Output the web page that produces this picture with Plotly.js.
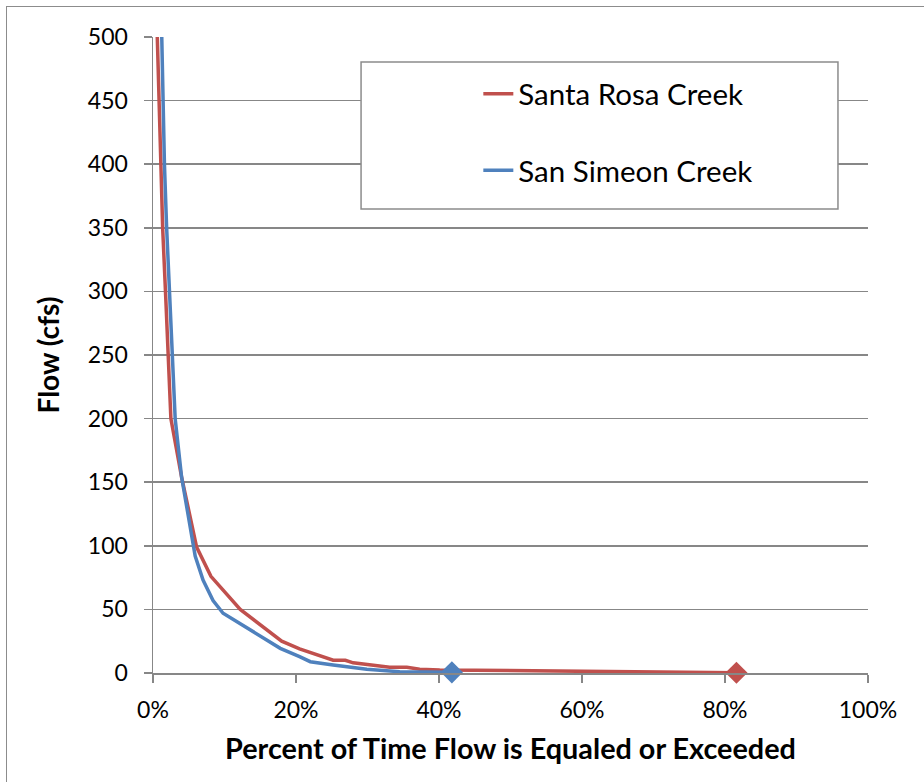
<!DOCTYPE html>
<html>
<head>
<meta charset="utf-8">
<script src="https://cdn.plot.ly/plotly-3.0.1.min.js"></script>
<style>
html,body{margin:0;padding:0;background:#fff;}
#wrap{position:relative;width:924px;height:782px;overflow:hidden;}
#chart{width:924px;height:782px;}
#frame{position:absolute;left:6px;top:6px;width:940px;height:800px;border:1.5px solid #8c8c8c;pointer-events:none;}
</style>
</head>
<body>
<div id="wrap"><div id="chart"></div><div id="frame"></div></div>
<script>
// Santa Rosa Creek flow-duration (percent exceeded, cfs)
const santaRosaPct  = [0.5, 0.6, 1.1, 1.35, 1.8, 2.1, 2.5, 4.0, 6.1, 8.1, 12.2, 18.0, 20.5, 25.2, 26.9, 28.0, 33.1, 35.5, 37.3, 40.1, 50, 60, 70, 81.6];
const santaRosaFlow = [560, 500, 400, 350, 293, 252, 200, 154, 99, 76, 50, 25, 19, 10, 10, 8, 4.5, 4.5, 3, 2.4, 2, 1.5, 1, 0.2];
// San Simeon Creek flow-duration
const sanSimeonPct  = [1.0, 1.2, 1.6, 1.9, 2.4, 2.7, 3.1, 4.0, 5.6, 5.9, 7.0, 8.4, 9.8, 13.6, 17.8, 20.5, 22.0, 25.2, 29.9, 34.5, 40.1, 41.8];
const sanSimeonFlow = [560, 500, 400, 351, 293, 252, 200, 154, 99, 92, 73, 57, 47, 34, 19.4, 12.8, 8.9, 6.3, 2.9, 1, 0.3, 0.5];
// End-point markers
const endPct  = [41.8, 81.6];
const endFlow = [0.5, 0.2];
const seriesNames = ['Santa Rosa Creek', 'San Simeon Creek'];
const red = '#C0504D', blue = '#4F81BD';
const tickFont = {family: 'Lato, sans-serif', size: 23, color: '#000'};
const grid = '#878787';

const traces = [
  {x: santaRosaPct, y: santaRosaFlow, name: seriesNames[0], type: 'scatter', mode: 'lines',
   line: {color: red, width: 3.5}, legendgroup: 'a'},
  {x: sanSimeonPct, y: sanSimeonFlow, name: seriesNames[1], type: 'scatter', mode: 'lines',
   line: {color: blue, width: 3.5}, legendgroup: 'b'},
  {x: [endPct[0]], y: [endFlow[0]], type: 'scatter', mode: 'markers', showlegend: false, cliponaxis: false,
   marker: {symbol: 'diamond', size: 17, color: blue}},
  {x: [endPct[1]], y: [endFlow[1]], type: 'scatter', mode: 'markers', showlegend: false, cliponaxis: false,
   marker: {symbol: 'diamond', size: 17, color: red}}
];

const layout = {
  width: 924, height: 782,
  margin: {l: 153, r: 56, t: 37, b: 109},
  paper_bgcolor: '#fff', plot_bgcolor: '#fff',
  showlegend: true,
  xaxis: {
    range: [0, 100], dtick: 20, tick0: 0, ticksuffix: '%',
    showgrid: false, zeroline: false,
    showline: true, linecolor: grid, linewidth: 1.5,
    ticks: 'outside', ticklen: 8, tickcolor: grid, tickwidth: 1.5,
    tickfont: tickFont, ticklabelstandoff: 8,
    title: {text: 'Percent of Time Flow is Equaled or Exceeded', standoff: 16,
            font: {family: 'Lato, sans-serif', size: 28.8, color: '#000', weight: 'bold'}}
  },
  yaxis: {
    range: [0, 500], dtick: 50, tick0: 0,
    showgrid: true, gridcolor: grid, gridwidth: 1.5, zeroline: false,
    showline: true, linecolor: grid, linewidth: 1.5,
    ticks: 'outside', ticklen: 8, tickcolor: grid, tickwidth: 1.5,
    tickfont: tickFont, ticklabelstandoff: 11,
    title: {text: 'Flow (cfs)', standoff: 20,
            font: {family: 'Lato, sans-serif', size: 28, color: '#000', weight: 'bold'}}
  },
  shapes: [
    {type: 'rect', xref: 'paper', yref: 'paper', x0: 0.291, x1: 0.958, y0: 0.7296, y1: 0.9607,
     fillcolor: '#fff', line: {color: '#8c8c8c', width: 1.5}, layer: 'above'}
  ],
  legend: {
    x: 0.455, y: 0.951, xanchor: 'left', yanchor: 'top',
    bgcolor: 'rgba(0,0,0,0)', borderwidth: 0,
    font: {family: 'Lato, sans-serif', size: 29.5, color: '#000'},
    traceorder: 'grouped', tracegroupgap: 35
  }
};

Plotly.newPlot('chart', traces, layout, {displayModeBar: false, staticPlot: true});
</script>
</body>
</html>
